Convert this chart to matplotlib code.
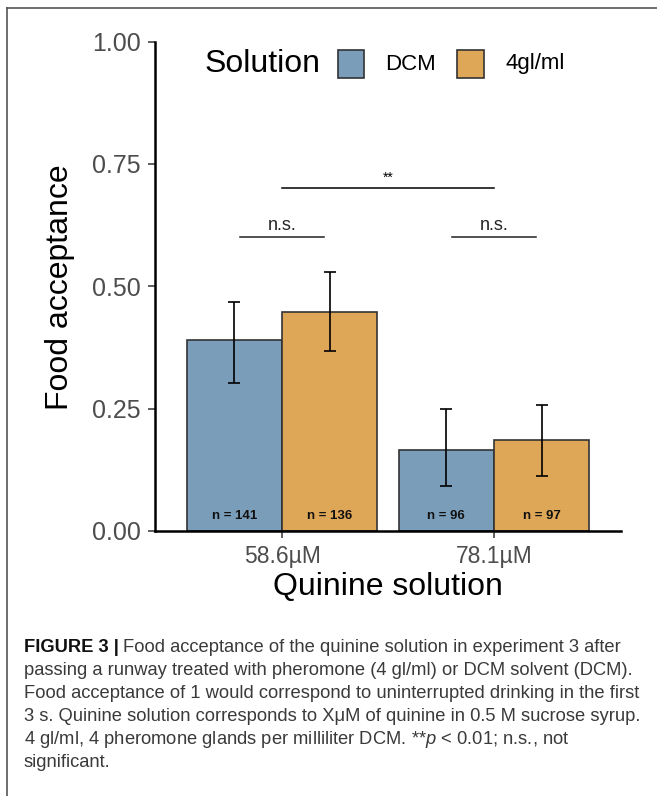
import matplotlib
matplotlib.use("Agg")
import matplotlib.pyplot as plt
import numpy as np
from matplotlib.lines import Line2D
from matplotlib.patches import Rectangle

plt.rcParams["font.family"] = ["Liberation Sans", "DejaVu Sans"]
plt.rcParams["mathtext.fontset"] = "custom"
plt.rcParams["mathtext.rm"] = "Liberation Sans"
plt.rcParams["mathtext.it"] = "Liberation Sans:italic"

# ---- data ----
concentrations = ["58.6µM", "78.1µM"]
solutions = ["DCM", "4gl/ml"]
dcm_mean = [0.390, 0.166]
dcm_lo = [0.303, 0.092]
dcm_hi = [0.468, 0.249]
gl_mean = [0.447, 0.185]
gl_lo = [0.367, 0.113]
gl_hi = [0.530, 0.257]
n_dcm = [141, 96]
n_gl = [136, 97]

colors = ["#7a9dba", "#dea657"]
W, H = 657, 796


def fx(px):
    return px / W


def fy(py):
    return 1 - py / H


fig = plt.figure(figsize=(W / 100, H / 100), dpi=100)
ax = fig.add_axes([fx(155), fy(531), fx(621) - fx(155), fy(41.5) - fy(531)])

x = np.arange(1, len(concentrations) + 1)
bw = 0.45
groups = [(dcm_mean, dcm_lo, dcm_hi, n_dcm), (gl_mean, gl_lo, gl_hi, n_gl)]
for i, (m, lo, hi, n) in enumerate(groups):
    xs = x + (i - 0.5) * bw
    m = np.asarray(m)
    ax.bar(xs, m, width=bw, color=colors[i], edgecolor="#333333",
           linewidth=1.2, zorder=2)
    yerr = np.vstack([m - np.asarray(lo), np.asarray(hi) - m])
    ax.errorbar(xs, m, yerr=yerr, fmt="none", ecolor="black", elinewidth=1.2,
                capsize=4, capthick=1.2, zorder=3)
    for xi, ni in zip(xs, n):
        ax.text(xi, 0.03, f"n = {ni}", ha="center", va="center",
                fontsize=9.5, fontweight="bold", color="#111111", zorder=4)

# significance brackets
ax.plot([1, 2], [0.70, 0.70], color="black", lw=1.1)
ax.text(1.5, 0.708, "**", ha="center", va="bottom", fontsize=10)
for xc in x:
    ax.plot([xc - 0.2, xc + 0.2], [0.60, 0.60], color="#222222", lw=1.1)
    ax.text(xc, 0.607, "n.s.", ha="center", va="bottom", fontsize=13,
            color="#222222")

ax.set_xlim(0.4, 2.6)
ax.set_ylim(0, 1.0)
ax.set_xticks(x)
ax.set_xticklabels(concentrations)
ax.set_yticks([0, 0.25, 0.5, 0.75, 1.0])
ax.set_yticklabels(["0.00", "0.25", "0.50", "0.75", "1.00"])
ax.tick_params(axis="y", labelsize=18, labelcolor="#4d4d4d", length=5,
               width=1.1, color="#333333", pad=5)
ax.tick_params(axis="x", labelsize=16.5, labelcolor="#4d4d4d", length=5,
               width=1.1, color="#333333", pad=5)
for s in ["top", "right"]:
    ax.spines[s].set_visible(False)
for s in ["left", "bottom"]:
    ax.spines[s].set_linewidth(1.8)
    ax.spines[s].set_color("black")

fig.text(fx(60), fy(287), "Food acceptance", rotation=90, ha="center",
         va="center", fontsize=23)
fig.text(fx(388), fy(587), "Quinine solution", ha="center", va="center",
         fontsize=23)

# legend drawn by hand to keep the horizontal title layout
fig.text(fx(205), fy(64), "Solution", ha="left", va="center", fontsize=23)
for (bx, tx), lab, col in zip([(337.5, 385), (457, 505)], solutions, colors):
    fig.add_artist(Rectangle((fx(bx), fy(77.5)), fx(26.5), fy(50.5) - fy(77.5),
                             transform=fig.transFigure, facecolor=col,
                             edgecolor="#333333", linewidth=1.2))
    fig.text(fx(tx), fy(64), lab, ha="left", va="center", fontsize=16)

# frame of the figure panel
fig.add_artist(Line2D([fx(7), 1], [fy(8), fy(8)], transform=fig.transFigure,
                      color="#555555", lw=1.2))
fig.add_artist(Line2D([fx(7), fx(7)], [fy(8), 0], transform=fig.transFigure,
                      color="#555555", lw=1.2))

# caption
cap_color = "#3a3a3a"
cap_size = 13.2
lines = [
    "Food acceptance of the quinine solution in experiment 3 after",
    "passing a runway treated with pheromone (4 gl/ml) or DCM solvent (DCM).",
    "Food acceptance of 1 would correspond to uninterrupted drinking in the first",
    "3 s. Quinine solution corresponds to XμM of quinine in 0.5 M sucrose syrup.",
    "4 gl/ml, 4 pheromone glands per milliliter DCM. **$p$ < 0.01; n.s., not",
    "significant.",
]
y0, dy = 652, 23
head = fig.text(fx(24), fy(y0), "FIGURE 3 |", ha="left", va="baseline",
                fontsize=cap_size, fontweight="bold", color="#111111")
fig.canvas.draw()
bb = head.get_window_extent()
fig.text(bb.x1 / W + fx(4), fy(y0), lines[0], ha="left", va="baseline",
         fontsize=cap_size, color=cap_color)
for k, line in enumerate(lines[1:], start=1):
    fig.text(fx(24), fy(y0 + k * dy), line, ha="left", va="baseline",
             fontsize=cap_size, color=cap_color)

fig.savefig("out.png", dpi=100)
